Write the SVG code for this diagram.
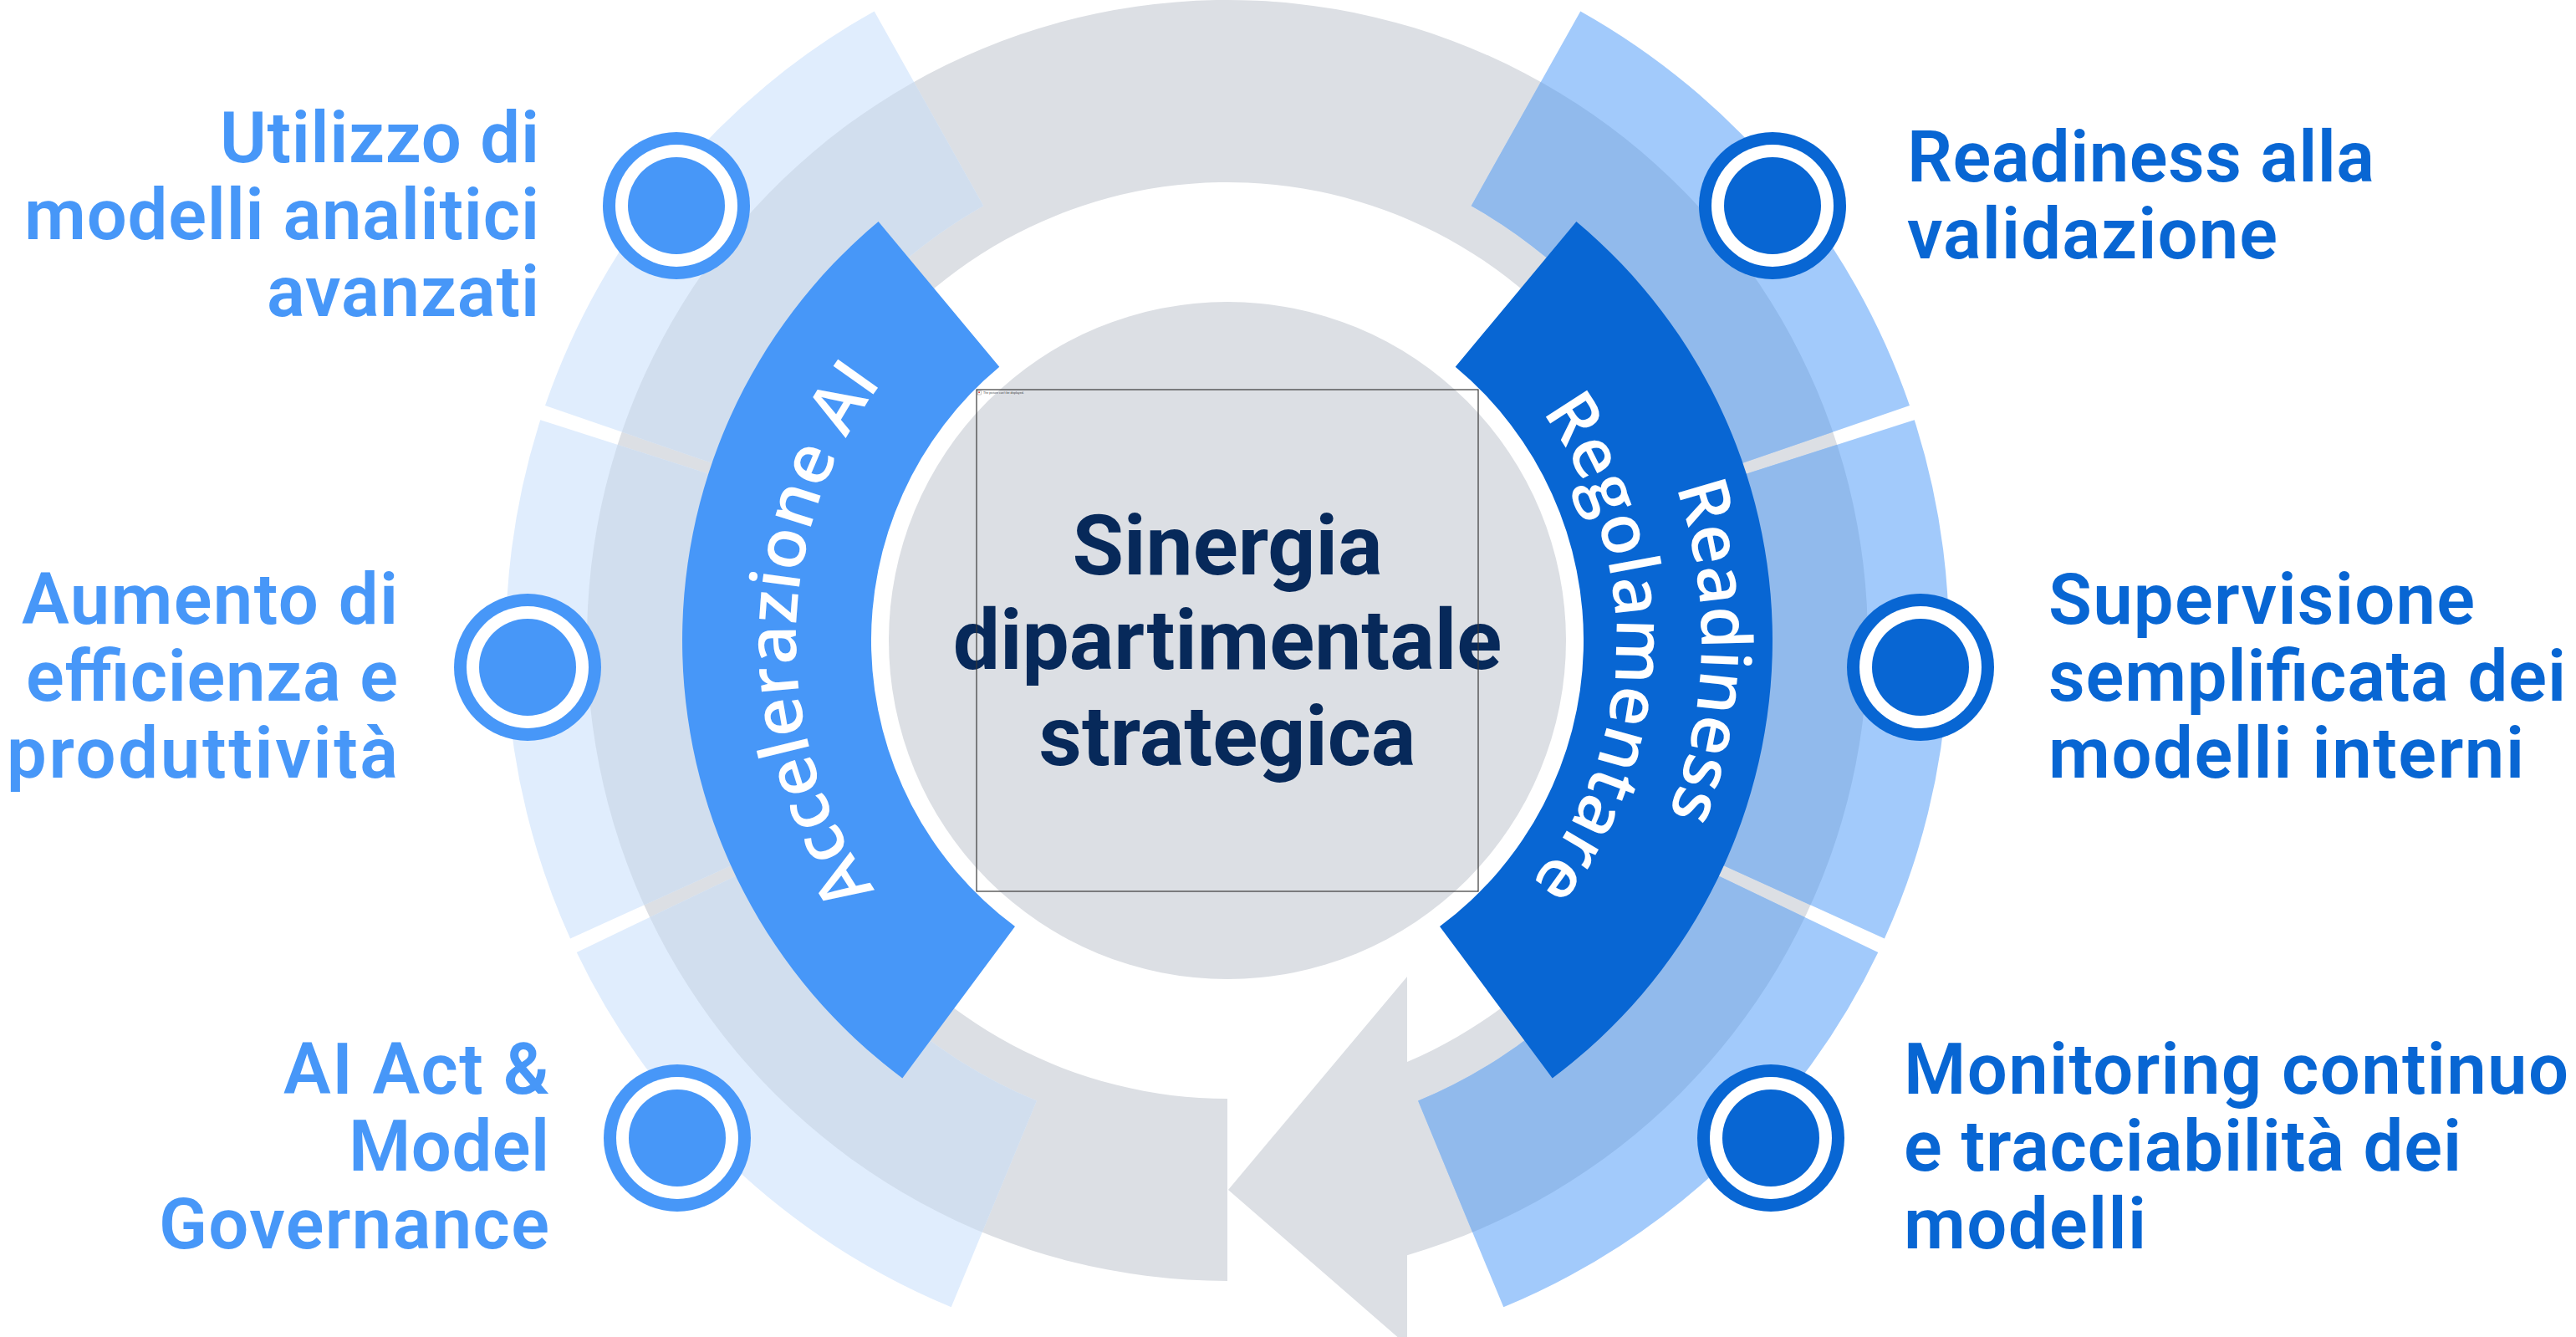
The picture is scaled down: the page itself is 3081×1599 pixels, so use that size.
<svg xmlns="http://www.w3.org/2000/svg" width="3081" height="1599" viewBox="0 0 3081 1599">
<style>
.lbl{font-family:Roboto,"Liberation Sans",sans-serif;font-weight:600;font-size:85px}
.lL{fill:#4797F8;text-anchor:end}
.lR{fill:#0866D3;text-anchor:start}
.band{font-family:"Open Sans","Liberation Sans",sans-serif;font-weight:600;font-size:82px;fill:#ffffff}
.ctr{font-family:Roboto,"Liberation Sans",sans-serif;font-weight:700;font-size:100px;fill:#07295A;text-anchor:middle}
.gray{fill:#DCDFE4}
.nL{fill:#4797F8}
.nR{fill:#0866D3}
.w{fill:#ffffff}
</style>
<defs>
<clipPath id="ringclip">
<path d="M1468,1532 A766,766 0 1 1 1683,1501.2 L1683,1609 L1469,1423 L1683,1168 L1683,1270.1 A548,548 0 1 0 1468,1314 Z"/>
</clipPath>
<path id="lb" d="M1137.7,1563.3 A863,863 0 0 1 689.7,1138.9 L930.5,1023.5 A596,596 0 0 0 1239.9,1316.6 Z M682.1,1122.5 A863,863 0 0 1 646.3,502.2 L900.5,583.8 A596,596 0 0 0 925.2,1012.2 Z M652.0,485.0 A863,863 0 0 1 1045.7,13.4 L1176.3,246.2 A596,596 0 0 0 904.5,572.0 Z"/>
<path id="rb" d="M1890.3,13.4 A863,863 0 0 1 2284.0,485.0 L2031.5,572.0 A596,596 0 0 0 1759.7,246.2 Z M2289.7,502.2 A863,863 0 0 1 2253.9,1122.5 L2010.8,1012.2 A596,596 0 0 0 2035.5,583.8 Z M2246.3,1138.9 A863,863 0 0 1 1798.3,1563.3 L1696.1,1316.6 A596,596 0 0 0 2005.5,1023.5 Z"/>
<path id="tpL" d="M1204.2,1209.5 A516,516 0 0 1 1215.9,315.8"/>
<path id="tpR1" d="M1762.6,281.5 A567,567 0 0 1 1740.3,1263.3"/>
<path id="tpR2" d="M1709.6,368.7 A465,465 0 0 1 1691.3,1173.9"/>
</defs>
<rect x="0" y="0" width="3081" height="1599" fill="#ffffff"/>
<g id="connectors">
<path id="cycle-arrow" class="gray" d="M1468,1532 A766,766 0 1 1 1683,1501.2 L1683,1609 L1469,1423 L1683,1168 L1683,1270.1 A548,548 0 1 0 1468,1314 Z"/>
</g>
<g id="outer-bands">
<use href="#lb" fill="#E0EDFD"/>
<use href="#lb" fill="#D1DEEE" clip-path="url(#ringclip)"/>
<use href="#rb" fill="#A2CAFB"/>
<use href="#rb" fill="#91BAEC" clip-path="url(#ringclip)"/>
</g>
<g id="center">
<circle class="gray" cx="1468" cy="766" r="405"/>
<text class="ctr"><tspan x="1468" y="687">Sinergia</tspan><tspan x="1468" y="800">dipartimentale</tspan><tspan x="1468" y="915">strategica</tspan></text>
<rect x="1168" y="466" width="600" height="600" fill="none" stroke="#3a3a3a" stroke-width="1.2"/>
<rect x="1169.5" y="467.5" width="4" height="4.5" fill="#ffffff" stroke="#999" stroke-width="0.5"/>
<rect x="1170.3" y="468.4" width="1.6" height="1.6" fill="#d33"/>
<text x="1176" y="471" font-family="Liberation Sans, sans-serif" font-size="3.6" fill="#444">The picture can't be displayed.</text>
</g>
<g id="band-ai">
<path fill="#4797F8" d="M1079.3,1289.4 A652,652 0 0 1 1050.6,265.1 L1195.3,438.7 A426,426 0 0 0 1214.0,1108.0 Z"/>
<text class="band" text-anchor="middle"><textPath href="#tpL" startOffset="50%">Accelerazione AI</textPath></text>
</g>
<g id="band-reg">
<path fill="#0866D3" d="M1885.4,265.1 A652,652 0 0 1 1856.7,1289.4 L1722.0,1108.0 A426,426 0 0 0 1740.7,438.7 Z"/>
<text class="band" text-anchor="middle"><textPath href="#tpR1" startOffset="50%">Readiness</textPath></text>
<text class="band" text-anchor="middle"><textPath href="#tpR2" startOffset="50%">Regolamentare</textPath></text>
</g>
<g id="node-l1">
<circle class="nL" cx="809" cy="246" r="88"/><circle class="w" cx="809" cy="246" r="73"/><circle class="nL" cx="809" cy="246" r="58"/>
<text class="lbl lL"><tspan x="645" y="194" textLength="382">Utilizzo di</tspan></text>
<text class="lbl lL"><tspan x="645" y="286" textLength="616">modelli analitici</tspan></text>
<text class="lbl lL"><tspan x="645" y="378" textLength="326">avanzati</tspan></text>
</g>
<g id="node-l2">
<circle class="nL" cx="631" cy="798" r="88"/><circle class="w" cx="631" cy="798" r="73"/><circle class="nL" cx="631" cy="798" r="58"/>
<text class="lbl lL"><tspan x="476" y="746" textLength="450">Aumento di</tspan></text>
<text class="lbl lL"><tspan x="476" y="838" textLength="445">efficienza e</tspan></text>
<text class="lbl lL"><tspan x="476" y="930" textLength="468">produttività</tspan></text>
</g>
<g id="node-l3">
<circle class="nL" cx="810" cy="1361" r="88"/><circle class="w" cx="810" cy="1361" r="73"/><circle class="nL" cx="810" cy="1361" r="58"/>
<text class="lbl lL"><tspan x="657" y="1308" textLength="318">AI Act &amp;</tspan></text>
<text class="lbl lL"><tspan x="657" y="1400" textLength="240">Model</tspan></text>
<text class="lbl lL"><tspan x="657" y="1493" textLength="467">Governance</tspan></text>
</g>
<g id="node-r1">
<circle class="nR" cx="2120" cy="246" r="88"/><circle class="w" cx="2120" cy="246" r="73"/><circle class="nR" cx="2120" cy="246" r="58"/>
<text class="lbl lR"><tspan x="2281" y="217" textLength="559">Readiness alla</tspan></text>
<text class="lbl lR"><tspan x="2281" y="309" textLength="443">validazione</tspan></text>
</g>
<g id="node-r2">
<circle class="nR" cx="2297" cy="798" r="88"/><circle class="w" cx="2297" cy="798" r="73"/><circle class="nR" cx="2297" cy="798" r="58"/>
<text class="lbl lR"><tspan x="2450" y="746" textLength="510">Supervisione</tspan></text>
<text class="lbl lR"><tspan x="2450" y="838" textLength="619">semplificata dei</tspan></text>
<text class="lbl lR"><tspan x="2450" y="930" textLength="569">modelli interni</tspan></text>
</g>
<g id="node-r3">
<circle class="nR" cx="2118" cy="1361" r="88"/><circle class="w" cx="2118" cy="1361" r="73"/><circle class="nR" cx="2118" cy="1361" r="58"/>
<text class="lbl lR"><tspan x="2277" y="1308" textLength="795">Monitoring continuo</tspan></text>
<text class="lbl lR"><tspan x="2277" y="1400" textLength="667">e tracciabilità dei</tspan></text>
<text class="lbl lR"><tspan x="2277" y="1493" textLength="290">modelli</tspan></text>
</g>
</svg>
